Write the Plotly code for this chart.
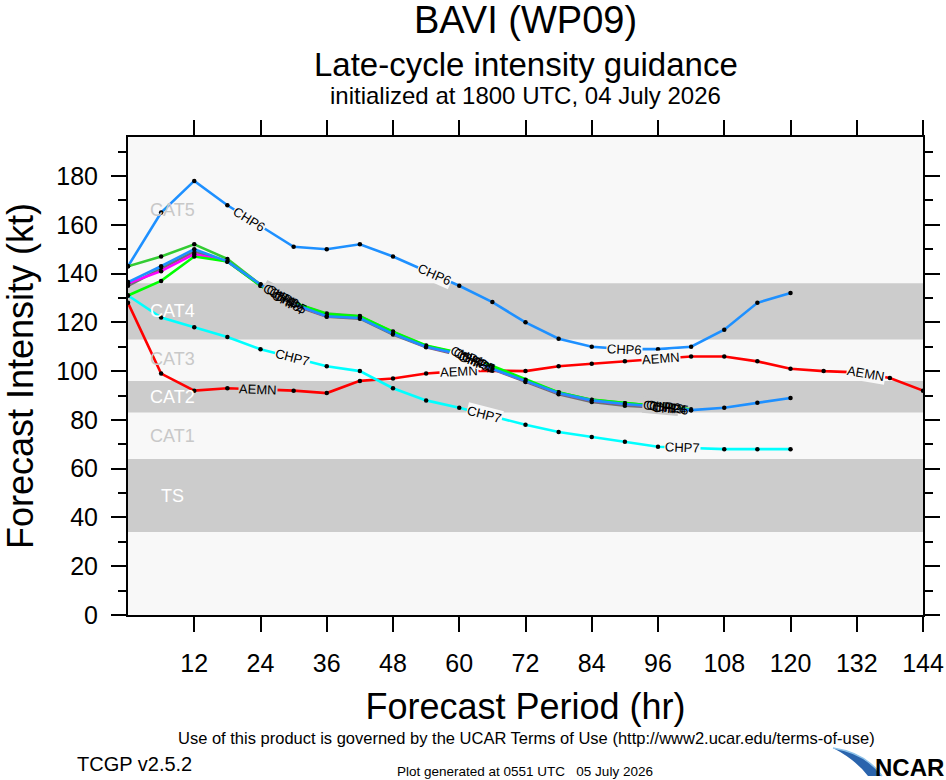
import numpy as np
import plotly.graph_objects as go

# forecast hours, every 6 h
hours = list(range(0, 145, 6))

# intensity guidance (kt)
aemn = [128, 99, 92, 93, 92.5, 92, 91, 96, 97, 99, 100, 100.2, 100, 102, 103, 104,
        105, 106, 106, 104, 101, 100, 99.5, 97.2, 92]
chp6 = [143, 165, 178, 168, 159.5, 151, 150, 152, 147, 141, 135, 128.3, 120, 113.3,
        110, 109, 109, 110, 117, 128, 132]
chp7 = [131, 122, 118, 114, 109, 105.5, 102, 100, 93, 88, 85, 81.5, 78, 75, 73, 71,
        69, 68.5, 68, 68, 68]
chp1 = [131, 137, 147, 145, 135, 128, 123.3, 122.4, 116.2, 110.5, 107.5, 102, 96.5,
        91.3, 88.2, 86.8, 85.6, 84.3]
chp2 = [143, 147, 152, 146, 135.5, 128, 123.6, 122.6, 116, 110.3, 107.3, 101.5, 96.3,
        91.2, 88.3, 86.8, 85.6, 84.2]
chp3 = [136, 141, 148, 145, 135.5, 127.5, 122.5, 122, 115.5, 110, 107, 101, 96, 91,
        88, 86.5, 85.5, 84.2]
chp4 = [135, 142, 149, 145, 135, 127, 122.3, 121.5, 115, 109.8, 106.5, 100.8, 95.5,
        90.5, 87.3, 85.8, 85, 84]
chp5 = [136.5, 143, 150, 145, 135.5, 127.5, 122.5, 121.8, 115.3, 110, 107, 101, 96,
        91, 88, 86.5, 85.5, 84, 85, 87, 89]

# intensity category bands
dark_bands = [(34, 64), (83, 96), (113, 136)]
cat_names = ["CAT5", "CAT4", "CAT3", "CAT2", "CAT1", "TS"]
cat_y = [166, 124.5, 105, 89.5, 73.5, 49]

LIGHT = "#f8f8f8"
DARK = "#cccccc"
FONT = "Liberation Sans, Arial, Helvetica, sans-serif"

series = [
    ("AEMN", aemn, "#ff0000"),
    ("CHP7", chp7, "#00ffff"),
    ("CHP6", chp6, "#1e90ff"),
    ("CHP4", chp4, "#707070"),
    ("CHP3", chp3, "#ff00ff"),
    ("CHP2", chp2, "#33cc33"),
    ("CHP1", chp1, "#00ff00"),
    ("CHP5", chp5, "#1e90ff"),
]

# where the line labels sit along each track (hours)
label_at = {
    "AEMN": [23.6, 60, 96.5, 133.6],
    "CHP6": [22, 55.5, 90],
    "CHP7": [29.8, 64.6, 100.5],
}
cluster = ["CHP1", "CHP2", "CHP3", "CHP4", "CHP5"]
cluster_at = [28.5, 62.5, 97.5]

XMAX, YMAX = 144, 196
L, R, T, B = 128, 23, 137, 165
W, H = 946, 780
px_hr = (W - L - R) / XMAX
px_kt = (H - T - B) / YMAX


def in_dark(v):
    return any(lo <= v <= hi for lo, hi in dark_bands)


fig = go.Figure()

for name, vals, col in series:
    fig.add_trace(go.Scatter(
        x=hours[:len(vals)], y=vals, mode="lines+markers", name=name,
        line=dict(color=col, width=2.6),
        marker=dict(color="black", size=4.5),
        showlegend=False, hoverinfo="skip"))

# category bands
for lo, hi in dark_bands:
    fig.add_shape(type="rect", xref="paper", yref="y", x0=0, x1=1, y0=lo, y1=hi,
                  fillcolor=DARK, line_width=0, layer="below")

for nm, cy in zip(cat_names, cat_y):
    fig.add_annotation(x=8, y=cy, text=nm, showarrow=False,
                       font=dict(family=FONT, size=18,
                                 color="white" if in_dark(cy) else "#c8c8c8"))


def line_label(name, vals, t, bg=True):
    hx = hours[:len(vals)]
    v = float(np.interp(t, hx, vals))
    slope = (np.interp(t + 1, hx, vals) - np.interp(t - 1, hx, vals)) / 2
    ang = -np.degrees(np.arctan(slope * px_kt / px_hr))
    fig.add_annotation(x=t, y=v, text=name, showarrow=False, textangle=ang,
                       font=dict(family=FONT, size=13, color="black"),
                       bgcolor=(DARK if in_dark(v) else LIGHT) if bg else None,
                       borderpad=0)


lookup = {n: v for n, v, c in series}
for name, spots in label_at.items():
    for t in spots:
        line_label(name, lookup[name], t)
for t in cluster_at:
    for i, name in enumerate(cluster):
        line_label(name, lookup[name], t - 1 + 0.5 * i, bg=(i == 0))


def py(p):
    return (H - B - p) / (H - T - B)


def pxx(p):
    return (p - L) / (W - L - R)


titles = [
    ("BAVI (WP09)", 20, 38),
    ("Late-cycle intensity guidance", 64, 33),
    ("initialized at 1800 UTC, 04 July 2026", 95, 24),
]
for txt, yy, sz in titles:
    fig.add_annotation(xref="paper", yref="paper", x=0.5, y=py(yy), text=txt,
                       showarrow=False, yanchor="middle",
                       font=dict(family=FONT, size=sz, color="black"))

footer = [
    ("Use of this product is governed by the UCAR Terms of Use (http://www2.ucar.edu/terms-of-use)",
     526, 738, 16.5),
    ("TCGP v2.5.2", 75, 764, 20),
    ("Plot generated at 0551 UTC&nbsp;&nbsp; 05 July 2026", 525, 771, 13.5),
]
for txt, xx, yy, sz in footer:
    fig.add_annotation(xref="paper", yref="paper", x=pxx(xx), y=py(yy), text=txt,
                       showarrow=False, yanchor="middle",
                       font=dict(family=FONT, size=sz, color="black"))

# NCAR logo
fig.add_shape(type="path", xref="paper", yref="paper", line_width=0,
              fillcolor="#2a64ad",
              path="M {} {} Q {} {} {} {} L {} {} Q {} {} {} {} Z".format(
                  pxx(833), py(748), pxx(866), py(753), pxx(882), py(776),
                  pxx(868), py(776), pxx(856), py(760), pxx(833), py(748)))
fig.add_shape(type="path", xref="paper", yref="paper", line=dict(color="#8ec3ea", width=1.5),
              path="M {} {} Q {} {} {} {}".format(
                  pxx(833), py(748), pxx(866), py(753), pxx(882), py(776)))
fig.add_annotation(xref="paper", yref="paper", x=pxx(946), y=py(767), text="<b>NCAR</b>",
                   showarrow=False, xanchor="right", yanchor="middle",
                   font=dict(family=FONT, size=24, color="black"))

axis_common = dict(showline=True, linecolor="black", linewidth=2, mirror="ticks",
                   ticks="outside", tickcolor="black", tickwidth=1.5, ticklen=15,
                   showgrid=False, zeroline=False, automargin=False,
                   tickfont=dict(family=FONT, size=25, color="black"))

fig.update_xaxes(range=[0, XMAX], tickvals=list(range(12, 145, 12)),
                 ticklabelstandoff=10,
                 title=dict(text="Forecast Period (hr)", standoff=18,
                            font=dict(family=FONT, size=36, color="black")),
                 **axis_common)
fig.update_yaxes(range=[0, YMAX], tickvals=list(range(0, 181, 20)),
                 ticklabelstandoff=8,
                 minor=dict(dtick=10, ticks="outside", ticklen=8, tickcolor="black",
                            tickwidth=1.5),
                 title=dict(text="Forecast Intensity (kt)", standoff=14,
                            font=dict(family=FONT, size=36, color="black")),
                 **axis_common)

fig.update_layout(width=W, height=H, margin=dict(l=L, r=R, t=T, b=B),
                  plot_bgcolor=LIGHT, paper_bgcolor="white",
                  font=dict(family=FONT))

# drop the page's default body margin so the figure sits at the window corner
fig.write_html("out.html", config={"displayModeBar": False},
               post_script="document.body.style.margin='0';"
                           "document.body.style.overflow='hidden';")
